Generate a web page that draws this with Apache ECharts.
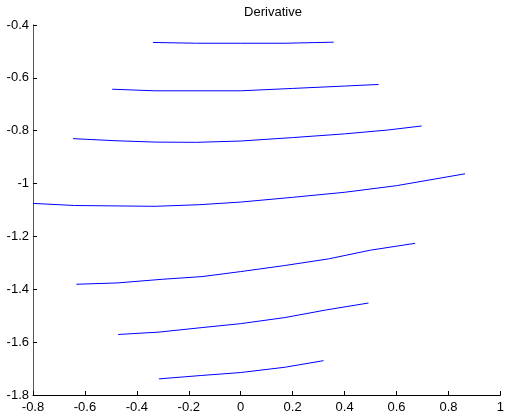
<!DOCTYPE html>
<html><head><meta charset="utf-8">
<script src="https://cdn.jsdelivr.net/npm/echarts@6/dist/echarts.min.js"></script>
<style>html,body{margin:0;padding:0;background:#fff}#c{width:507px;height:419px}</style>
</head><body><div id="c"></div>
<script>
const line1X = [-0.338, -0.17, 0, 0.17, 0.358];
const line1Y = [-0.466, -0.469, -0.469, -0.469, -0.465];
const line2X = [-0.495, -0.33, 0, 0.2, 0.4, 0.531];
const line2Y = [-0.643, -0.649, -0.649, -0.640, -0.631, -0.625];
const line3X = [-0.646, -0.48, -0.33, -0.17, 0, 0.2, 0.4, 0.57, 0.697];
const line3Y = [-0.830, -0.838, -0.843, -0.844, -0.839, -0.826, -0.812, -0.797, -0.782];
const line4X = [-0.8, -0.64, -0.33, -0.16, 0, 0.2, 0.4, 0.6, 0.864];
const line4Y = [-1.075, -1.083, -1.086, -1.08, -1.07, -1.052, -1.033, -1.008, -0.963];
const line5X = [-0.633, -0.476, -0.3, -0.149, 0, 0.17, 0.338, 0.5, 0.672];
const line5Y = [-1.381, -1.376, -1.362, -1.352, -1.333, -1.31, -1.285, -1.252, -1.226];
const line6X = [-0.472, -0.315, -0.15, 0, 0.17, 0.33, 0.492];
const line6Y = [-1.571, -1.562, -1.545, -1.530, -1.507, -1.478, -1.452];
const line7X = [-0.315, -0.15, 0, 0.17, 0.319];
const line7Y = [-1.739, -1.726, -1.715, -1.695, -1.670];

const lines = [[line1X,line1Y],[line2X,line2Y],[line3X,line3Y],[line4X,line4Y],[line5X,line5Y],[line6X,line6Y],[line7X,line7Y]];
const fontFam = '"Liberation Sans", Arial, sans-serif';
const chart = echarts.init(document.getElementById('c'));
chart.setOption({
  animation: false,
  title: { text: 'Derivative', left: 268, top: 1, textAlign: 'center',
    textStyle: { fontFamily: fontFam, fontSize: 13, fontWeight: 'normal', color: '#000' } },
  grid: { left: 33, right: 5, top: 25, bottom: 24, containLabel: false },
  xAxis: { type: 'value', min: -0.8, max: 1, interval: 0.2,
    axisLine: { show: true, onZero: false, lineStyle: { color: '#000', width: 1 } },
    axisTick: { show: true, inside: true, length: 4, lineStyle: { color: '#000' } },
    splitLine: { show: false },
    axisLabel: { fontFamily: fontFam, fontSize: 13, color: '#000', margin: 6,
      formatter: v => String(Math.round(v*10)/10) } },
  yAxis: { type: 'value', min: -1.8, max: -0.4, interval: 0.2,
    axisLine: { show: true, onZero: false, lineStyle: { color: '#555', width: 1 } },
    axisTick: { show: true, inside: true, length: 4, lineStyle: { color: '#000' } },
    splitLine: { show: false },
    axisLabel: { fontFamily: fontFam, fontSize: 13, color: '#000', margin: 4,
      formatter: v => String(Math.round(v*10)/10) } },
  series: lines.map(([xs, ys]) => ({
    type: 'line', showSymbol: false, symbol: 'none',
    lineStyle: { color: '#0000ff', width: 1 },
    data: xs.map((x, i) => [x, ys[i]])
  }))
});
</script></body></html>
